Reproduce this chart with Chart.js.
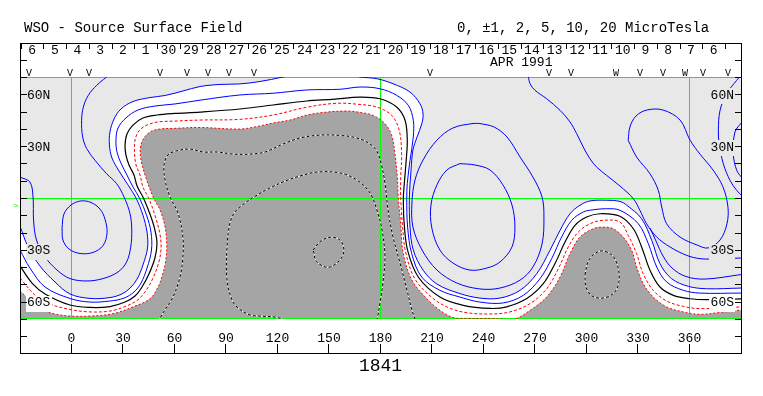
<!DOCTYPE html>
<html><head><meta charset="utf-8">
<script src="https://cdn.jsdelivr.net/npm/chart.js@4.4.0/dist/chart.umd.min.js"></script>
<style>html,body{margin:0;padding:0;background:#fff;}canvas{display:block;}</style>
</head><body>
<canvas id="c" width="763" height="396" style="width:763px;height:396px"></canvas>
<script>
// ---------- axis / label data ----------
const lonRange = [-30, 390];
const latRange = [-70, 70];
const lonTicks = [0,30,60,90,120,150,180,210,240,270,300,330,360];
const latTicks = [80,70,60,50,40,30,20,10,0,-10,-20,-30,-40,-50,-60,-70,-80];
const latLabelValues = [60,30,-30,-60];
const latLabelTexts = ['60N','30N','30S','60S'];
const gridLons = [0,180,360];
const gridLats = [70,0,-70];
const dayLabels = ['6','5','4','3','2','1','30','29','28','27','26','25','24','23','22','21','20','19','18','17','16','15','14','13','12','11','10','9','8','7','6'];
const dayFirstLon = -22.97;
const dayStepLon = 13.235;
const monthLabel = 'APR 1991';
const monthLabelLon = 262;
const markerLons = [-24.8,-0.9,10.2,51.6,67.3,79.5,91.7,106.3,208.8,278.1,290.9,317.2,331.1,344.6,357.4,367.8,382.4];
const markerChars = ['V','V','V','V','V','V','V','V','V','V','V','W','V','V','W','V','V'];
const titleText = 'WSO - Source Surface Field';
const levelText = '0, \u00b11, 2, 5, 10, 20 MicroTesla';
const rotationText = '1841';

// ---------- contour data [longitude, latitude] ----------
const posLineWest = [[22.6,71.7],[14.7,65.2],[9.8,59.4],[6.9,52.6],[5.9,45.0],[6.5,35.3],[8.9,28.5],[13.7,21.8],[20.5,14.0],[26.3,8.3],[30.6,0.6],[34.1,-9.1],[35.1,-18.5],[34.5,-28.3],[32.1,-37.0],[27.1,-42.8],[18.4,-46.6],[9.0,-48.0],[-0.9,-46.6],[-8.4,-41.7],[-15.4,-34.1],[-20.4,-24.3],[-22.1,-12.7],[-22.4,0.6],[-24.2,9.2],[-30,12.1]];
const posOvalWest = [[-5.5,-17.4],[-4.4,-9.3],[-0.3,-4.05],[5.5,-1.7],[11.4,-2.6],[16.6,-6.4],[19.5,-12.2],[20.7,-20.2],[18.4,-27.5],[12.5,-31.5],[5.0,-32.1],[-1.5,-29.5],[-5.0,-24.3],[-5.5,-17.4]];
const posBand1 = [[-30,-16.2],[-25.3,-28.3],[-18.4,-39.3],[-9.6,-48.6],[-0.9,-55.5],[10.8,-58.1],[22.4,-57.6],[29.4,-55.5],[34.1,-52.1],[38.2,-46.9],[41.6,-38.8],[44.3,-28.9],[44.0,-19.7],[41.6,-9.9],[37.6,0.0],[32.9,7.6],[27.7,15.6],[23.6,23.1],[22.1,30.7],[22.4,38.2],[24.8,45.7],[28.8,51.5],[35.8,55.8],[45.7,58.1],[54.5,59.3],[64.9,61.9],[74.9,64.5],[86.5,65.7],[98.1,66.0],[109.8,67.4],[123.2,70.0],[133.1,72.3],[156.4,72.3],[168.1,70.0],[177.9,69.0],[187.3,66.1],[197.2,61.3],[203.0,54.5],[204.8,48.6],[204.0,42.8],[201.3,35.3],[198.9,27.8],[197.8,16.2],[196.8,0.0],[197.2,-16.8],[199.1,-30.1],[204.8,-41.7],[212.9,-49.8],[226.3,-55.3],[237.9,-57.9],[249.6,-57.9],[261.3,-53.4],[271.0,-43.8],[278.7,-30.3],[284.6,-18.7],[290.4,-9.1],[296.2,-4.2],[302.0,-1.7],[311.7,-1.3],[319.5,-2.0],[323.6,-4.3],[332.1,-12.0],[338.0,-24.5],[342.8,-38.0],[349.6,-46.7],[359.3,-51.1],[370.0,-52.5],[390,-52.1]];
const posBand2 = [[-30,-30.1],[-24.2,-40.5],[-15.4,-51.5],[-0.9,-58.1],[10.8,-60.2],[22.4,-59.6],[30.6,-57.9],[36.4,-54.4],[40.5,-49.2],[44.0,-40.5],[46.6,-30.1],[46.3,-19.7],[43.7,-9.9],[39.6,0.0],[35.8,6.4],[32.3,13.3],[28.8,20.2],[26.5,26.6],[25.9,33.5],[27.1,40.5],[31.7,46.3],[38.7,50.9],[48.6,53.2],[60.3,54.4],[74.9,56.6],[98.1,59.6],[117.4,60.6],[137.0,62.5],[156.4,62.9],[168.1,64.2],[179.7,63.2],[189.4,59.4],[196.2,53.6],[199.1,45.0],[199.1,35.3],[197.2,21.8],[195.6,8.3],[195.3,-0.4],[195.8,-16.8],[198.2,-32.2],[204.0,-45.7],[214.6,-53.4],[226.3,-57.3],[237.9,-60.2],[251.5,-60.7],[263.2,-56.3],[272.9,-46.7],[279.7,-35.1],[285.5,-22.6],[291.4,-12.9],[298.1,-8.1],[304.0,-6.8],[311.7,-6.2],[319.5,-7.1],[330.2,-14.9],[336.0,-26.4],[340.9,-39.9],[346.7,-48.6],[356.4,-53.4],[366.1,-55.0],[390,-55.0]];
const neutralLine = [[-30,-39.3],[-23.0,-49.2],[-15.4,-55.5],[-0.9,-61.9],[10.8,-63.3],[22.4,-62.8],[31.2,-60.2],[37.0,-56.7],[41.1,-51.5],[45.1,-44.0],[48.6,-34.7],[49.8,-26.0],[48.3,-17.4],[45.7,-9.3],[41.9,0.0],[38.2,7.0],[36.4,13.3],[33.5,19.1],[31.7,24.9],[31.2,30.7],[32.3,37.0],[35.8,42.2],[41.6,46.3],[49.8,48.0],[60.3,48.9],[74.9,49.7],[98.1,51.5],[117.4,53.8],[137.0,56.1],[152.3,57.1],[168.1,58.4],[179.7,57.4],[189.4,52.6],[194.3,45.0],[195.6,33.4],[194.8,19.8],[193.7,6.4],[193.3,-0.4],[193.8,-14.9],[195.8,-30.3],[202.0,-45.7],[214.6,-57.3],[228.2,-62.1],[243.8,-63.9],[253.5,-63.0],[265.2,-58.2],[274.8,-49.6],[281.6,-38.0],[287.5,-25.5],[293.3,-15.8],[300.1,-11.0],[307.9,-9.1],[319.5,-10.6],[327.3,-17.8],[332.1,-28.3],[337.0,-41.8],[342.8,-51.5],[350.6,-56.3],[360.3,-58.3],[370.0,-58.8],[390,-58.4]];
const negBand1 = [[-30,-46.3],[-21.3,-56.1],[-12.5,-61.3],[-0.9,-64.5],[10.8,-65.9],[22.4,-65.4],[31.2,-62.8],[38.2,-59.3],[42.8,-54.4],[46.9,-47.5],[50.4,-38.8],[52.1,-30.1],[51.6,-21.4],[48.6,-9.9],[44.9,0.0],[41.6,6.4],[39.9,13.3],[37.6,19.1],[36.7,26.6],[37.0,33.5],[39.3,38.8],[44.0,42.2],[50.4,44.0],[60.3,44.5],[74.9,45.1],[98.1,45.5],[117.4,48.0],[137.0,52.5],[154.5,54.8],[168.1,54.1],[177.8,52.6],[186.5,47.8],[190.9,39.2],[192.3,25.6],[191.8,12.1],[191.8,-0.4],[192.9,-16.8],[194.6,-31.2],[200.1,-46.9],[210.0,-57.6],[218.7,-63.0],[229.2,-66.2],[243.8,-67.1],[255.4,-65.9],[267.1,-61.1],[276.8,-52.5],[283.6,-40.9],[289.4,-28.3],[295.2,-19.7],[302.0,-14.9],[309.8,-12.9],[319.5,-13.9],[324.3,-21.6],[329.2,-32.2],[333.0,-43.8],[338.9,-53.4],[346.7,-59.6],[356.4,-62.7],[366.1,-64.0],[390,-63.0]];
const negBand2 = [[-30,-53.8],[-22.4,-60.7],[-16.6,-64.8],[-9.6,-67.1],[-0.9,-68.3],[10.8,-68.3],[24.2,-66.9],[35.8,-63.0],[45.7,-58.3],[50.4,-51.5],[53.0,-44.5],[54.8,-37.0],[55.5,-27.2],[54.5,-16.8],[51.6,-7.0],[47.8,0.0],[43.4,11.6],[40.5,22.0],[40.2,29.5],[42.2,34.7],[46.3,38.5],[51.6,39.9],[60.3,40.3],[74.9,40.8],[98.1,39.9],[109.8,41.7],[117.4,43.4],[127.3,45.1],[137.2,48.0],[148.8,49.7],[160.5,50.3],[168.1,49.5],[175.6,47.8],[182.6,43.0],[186.5,36.3],[188.4,25.6],[189.8,12.1],[190.4,-0.4],[191.8,-14.9],[193.1,-31.2],[198.3,-47.5],[207.7,-59.0],[215.2,-65.4],[222.2,-69.1],[232.1,-69.7],[243.8,-69.7],[252.5,-70.2],[258.0,-70.3],[267.1,-65.0],[276.8,-57.3],[284.6,-45.7],[290.4,-32.2],[296.2,-22.6],[303.9,-17.8],[309.8,-16.8],[315.6,-17.8],[321.4,-22.6],[326.3,-30.3],[329.2,-39.9],[333.1,-49.6],[338.9,-57.3],[346.7,-63.0],[356.4,-65.9],[366.1,-67.3],[377.8,-66.2],[390,-64.8]];
const negOuter = [[50.4,-71.7],[53.3,-66.5],[59.1,-57.3],[63.2,-45.7],[64.9,-34.1],[64.9,-22.6],[62.0,-8.7],[57.4,0.6],[54.5,10.4],[53.9,19.1],[56.2,24.9],[60.9,27.2],[69.0,28.3],[76.6,26.6],[84.8,26.6],[94.1,25.4],[104.0,25.4],[112.7,26.6],[123.2,31.2],[133.1,34.7],[144.8,36.4],[156.4,36.2],[165.1,35.0],[172.1,32.4],[177.4,27.8],[180.3,20.2],[182.6,8.7],[184.4,-7.0],[187.3,-22.6],[191.4,-37.6],[195.4,-53.2],[198.3,-64.8],[200.7,-71.7]];
const negInner = [[127.3,-71.7],[119.7,-69.1],[109.8,-68.3],[104.0,-67.7],[97.0,-63.6],[93.5,-59.0],[90.6,-47.5],[90.6,-28.3],[92.3,-14.5],[95.2,-8.1],[101.1,-2.9],[108.1,1.7],[115.6,5.8],[124.4,9.8],[133.1,12.7],[143.0,15.0],[156.4,14.5],[166.3,10.4],[173.9,2.9],[177.9,-7.0],[180.9,-18.5],[182.6,-34.1],[181.4,-49.2],[179.7,-60.7],[177.9,-71.7]];
const negCore = [[140.8,-30.1],[144.8,-25.3],[150.6,-22.7],[156.4,-24.3],[158.7,-30.1],[156.4,-35.9],[149.6,-40.1],[142.8,-36.8],[140.8,-30.1]];
const negBump = [[299.1,-44.5],[301.4,-35.9],[307.9,-30.7],[314.8,-33.0],[318.3,-39.9],[318.9,-48.6],[316.0,-55.0],[309.6,-57.9],[303.2,-56.7],[299.7,-51.5],[299.1,-44.5]];
const posOvalOuter = [[237.9,43.1],[246.1,41.1],[253.7,35.3],[261.3,23.7],[268.8,12.1],[274.1,0.6],[275.2,-11.0],[274.1,-26.6],[268.8,-39.9],[261.3,-47.5],[249.6,-52.1],[237.9,-52.6],[224.5,-49.2],[212.9,-41.7],[204.2,-30.1],[198.9,-16.8],[198.3,-2.9],[200.1,10.4],[204.8,22.0],[212.9,33.5],[222.2,40.5],[233.9,43.1],[237.9,43.1]];
const posOvalInner = [[226.3,19.9],[235.0,19.1],[243.8,16.2],[251.3,7.6],[256.6,-4.05],[258.3,-16.8],[256.6,-28.3],[249.6,-37.0],[242.0,-40.5],[232.1,-41.7],[222.2,-37.6],[214.6,-30.1],[209.9,-17.4],[209.4,-4.05],[212.9,7.6],[218.7,16.2],[226.3,19.9]];
const posLineEast = [[265.3,71.7],[266.1,70.0],[267.1,66.1],[270.0,62.3],[276.8,57.4],[284.6,50.7],[290.4,44.0],[294.3,37.2],[298.1,29.5],[302.0,22.7],[305.9,17.9],[311.7,13.1],[319.5,6.9],[327.3,-0.4],[331.1,-7.1],[335.0,-14.9],[340.9,-22.6],[348.6,-28.3],[358.4,-33.2],[366.1,-35.1],[373.1,-35.3],[390,-34.7]];
const posBranchEast = [[337.0,-17.4],[340.5,-24.9],[344.6,-33.6],[349.8,-40.5],[357.9,-45.4],[369.0,-46.9],[390,-44.3]];
const posLoopEast = [[324.3,33.4],[325.3,41.1],[328.8,47.4],[335.2,50.9],[344.6,50.9],[354.5,45.1],[360.3,33.5],[366.1,25.4],[373.7,16.2],[379.5,6.4],[382.4,-5.2],[381.8,-15.0],[377.8,-24.3],[370.8,-28.9],[364.4,-27.2],[354.5,-22.6],[346.7,-14.9],[343.8,-5.2],[341.8,4.5],[337.0,14.0],[329.2,23.7],[324.3,33.4]];
const posEdge1 = [[390.6,71.7],[387.5,68.1],[381.6,60.3],[377.8,50.7],[376.8,39.2],[377.3,31.4],[379.7,19.8],[383.6,10.2],[387.5,4.4],[390.6,1.2]];
const posEdge2 = [[390.6,44.0],[386.5,38.2],[385.5,25.6],[387.5,16.0],[390.6,11.6]];

// ---------- styles ----------
const BLUE='#0000ff', RED='#ff0000', BLACK='#000000', WHITE='#ffffff';
const LIGHT='#e8e8e8', DARK='#a5a5a5', GREEN='#00ff00';
const MONO='"Liberation Mono", "DejaVu Sans Mono", monospace';

function mk(label, pts, color, width, dash){
  return {label, data: pts.map(p=>({x:p[0],y:p[1]})), showLine:true, borderColor:color,
    backgroundColor:color, borderWidth:width, borderDash:dash||[], pointRadius:0, pointHoverRadius:0,
    pointHitRadius:0, tension:0.35, fill:false, clip:0};
}
// bottom-to-top drawing order
const layers = [
  mk('negOuterBase', negOuter, WHITE, 1), mk('negOuter', negOuter, BLACK, 1, [3,2]),
  mk('negInnerBase', negInner, WHITE, 1), mk('negInner', negInner, BLACK, 1, [3,2]),
  mk('negCoreBase', negCore, WHITE, 1), mk('negCore', negCore, BLACK, 1, [3,2]),
  mk('negBumpBase', negBump, WHITE, 1), mk('negBump', negBump, BLACK, 1, [3,2]),
  mk('negBand2', negBand2, RED, 1, [2,2]),
  mk('negBand1', negBand1, RED, 1, [3,2]),
  mk('neutral', neutralLine, BLACK, 1.2),
  mk('posBand2', posBand2, BLUE, 1),
  mk('posBand1', posBand1, BLUE, 1),
  mk('posLineWest', posLineWest, BLUE, 1),
  mk('posOvalWest', posOvalWest, BLUE, 1),
  mk('posOvalOuter', posOvalOuter, BLUE, 1),
  mk('posOvalInner', posOvalInner, BLUE, 1),
  mk('posLineEast', posLineEast, BLUE, 1),
  mk('posBranchEast', posBranchEast, BLUE, 1),
  mk('posLoopEast', posLoopEast, BLUE, 1),
  mk('posEdge1', posEdge1, BLUE, 1),
  mk('posEdge2', posEdge2, BLUE, 1)
];
const datasets = layers.slice().reverse(); // index 0 is drawn last (on top)

function regionUnder(chart, label){
  const i = chart.data.datasets.findIndex(d=>d.label===label);
  const meta = chart.getDatasetMeta(i);
  const xs = chart.scales.x, ys = chart.scales.y;
  const line = meta.dataset;
  let p = new Path2D();
  try {
    line.updateControlPoints(chart.chartArea, 'x');
    line.path(p);
  } catch(e) {
    p = new Path2D();
    chart.data.datasets[i].data.forEach((q,k)=>{const px=xs.getPixelForValue(q.x), py=ys.getPixelForValue(q.y); k?p.lineTo(px,py):p.moveTo(px,py);});
  }
  p.lineTo(xs.getPixelForValue(lonRange[1]+5), ys.getPixelForValue(latRange[0]-15));
  p.lineTo(xs.getPixelForValue(lonRange[0]-5), ys.getPixelForValue(latRange[0]-15));
  p.closePath();
  return p;
}

const wso = {
  id:'wso',
  beforeDatasetsDraw(chart){
    const {ctx, chartArea:a, scales:{x:xs, y:ys}} = chart;
    ctx.save();
    ctx.fillStyle = LIGHT;
    ctx.fillRect(a.left, a.top, a.right-a.left, a.bottom-a.top);
    ctx.beginPath(); ctx.rect(a.left, a.top, a.right-a.left, a.bottom-a.top); ctx.clip();
    const white = regionUnder(chart, 'posBand1');
    const dark = regionUnder(chart, 'negBand2');
    chart.$regions = {white, dark};
    ctx.fillStyle = WHITE; ctx.fill(white);
    ctx.fillStyle = DARK; ctx.fill(dark);
    ctx.strokeStyle = GREEN; ctx.lineWidth = 1; ctx.setLineDash([]);
    ctx.beginPath();
    gridLons.forEach(l=>{const px=Math.round(xs.getPixelForValue(l))-0.5; ctx.moveTo(px,a.top); ctx.lineTo(px,a.bottom);});
    gridLats.forEach(l=>{let r=Math.min(Math.round(ys.getPixelForValue(l)), Math.round(a.bottom)-1); ctx.moveTo(a.left,r+0.5); ctx.lineTo(a.right,r+0.5);});
    ctx.stroke();
    ctx.restore();
  },
  afterDraw(chart){
    const {ctx, chartArea:a, scales:{x:xs, y:ys}} = chart;
    const reg = chart.$regions;
    ctx.save();
    // latitude labels with a box of the local fill colour
    ctx.font = '13px ' + MONO;
    ctx.textBaseline = 'middle';
    latLabelValues.forEach((l,k)=>{
      const py = ys.getPixelForValue(l);
      const t = latLabelTexts[k];
      const w = ctx.measureText(t).width;
      [[27,'left'],[734,'right']].forEach(([x0,al])=>{
        const left = al==='left' ? x0 : x0 - w;
        const cx = left + w/2, cy = py;
        let bg = LIGHT;
        if (reg && ctx.isPointInPath(reg.dark, cx, cy)) bg = DARK;
        else if (reg && ctx.isPointInPath(reg.white, cx, cy)) bg = WHITE;
        ctx.fillStyle = bg;
        ctx.fillRect(Math.floor(left)-1, Math.round(py)-6, Math.ceil(w)+2, 16);
        ctx.fillStyle = BLACK;
        ctx.textAlign = al;
        ctx.fillText(t, x0, py+1);
      });
    });
    // frame and ticks
    ctx.strokeStyle = BLACK; ctx.lineWidth = 1; ctx.setLineDash([]);
    const L=20, R=741, T=43, B=353;
    ctx.strokeRect(L+0.5, T+0.5, R-L, B-T);
    ctx.beginPath();
    latTicks.forEach(l=>{const r=Math.round(ys.getPixelForValue(l))+0.5; ctx.moveTo(L,r); ctx.lineTo(L+7,r); ctx.moveTo(R+1,r); ctx.lineTo(R-6,r);});
    lonTicks.forEach(l=>{const c=Math.round(xs.getPixelForValue(l))-0.5; ctx.moveTo(c,B-9); ctx.lineTo(c,B);});
    for(let k=0;k<=dayLabels.length;k++){
      const c=Math.round(xs.getPixelForValue(dayFirstLon+(k-0.5)*dayStepLon))+0.5;
      if(c>L+1 && c<R) { ctx.moveTo(c,T); ctx.lineTo(c,T+6); }
    }
    ctx.stroke();
    ctx.fillStyle = BLACK;
    ctx.textBaseline = 'alphabetic';
    ctx.font = '14px ' + MONO;
    ctx.textAlign = 'left';
    ctx.fillText(titleText, 24, 32);
    ctx.fillText(levelText, 457, 32);
    ctx.font = '13px ' + MONO;
    ctx.textAlign = 'center';
    dayLabels.forEach((t,k)=>{ctx.fillText(t, xs.getPixelForValue(dayFirstLon+k*dayStepLon), 54);});
    ctx.fillText(monthLabel, xs.getPixelForValue(monthLabelLon), 66);
    ctx.font = '10px ' + MONO;
    markerLons.forEach((l,k)=>{ctx.fillText(markerChars[k], xs.getPixelForValue(l), 76);});
    ctx.font = '13px ' + MONO;
    lonTicks.forEach(l=>{ctx.fillText(String(l), xs.getPixelForValue(l), 342);});
    ctx.font = '18px ' + MONO;
    ctx.fillText(rotationText, xs.getPixelForValue(180), 371);
    ctx.fillStyle = GREEN; ctx.font = '8px ' + MONO;
    ctx.fillText('>', 16, ys.getPixelForValue(-4)+3);
    ctx.restore();
  }
};

new Chart(document.getElementById('c'), {
  type:'scatter',
  data:{datasets},
  options:{
    responsive:false, devicePixelRatio:1, animation:false,
    layout:{padding:{left:20, right:22, top:77, bottom:77}},
    scales:{
      x:{type:'linear', min:lonRange[0], max:lonRange[1], display:false},
      y:{type:'linear', min:latRange[0], max:latRange[1], display:false}
    },
    plugins:{legend:{display:false}, tooltip:{enabled:false}},
    events:[]
  },
  plugins:[wso]
});
</script>
</body></html>
